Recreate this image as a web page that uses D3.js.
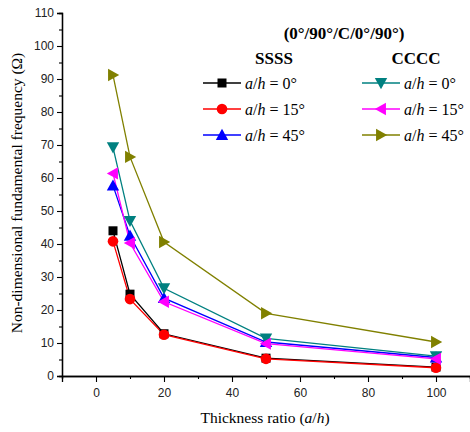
<!DOCTYPE html>
<html><head><meta charset="utf-8">
<script src="https://cdn.jsdelivr.net/npm/d3@7"></script>
<style>body{margin:0;background:#fff}svg{display:block}</style>
</head><body>
<svg id="c" width="470" height="432"></svg>
<script>
const ratios = [5, 10, 20, 50, 100];
const ssss0  = [44.0, 24.8, 12.8, 5.4, 2.7];
const ssss15 = [40.8, 23.3, 12.5, 5.2, 2.5];
const ssss45 = [57.7, 42.5, 23.6, 10.3, 5.6];
const cccc0  = [69.3, 47.0, 26.6, 11.4, 6.0];
const cccc15 = [61.4, 40.3, 22.5, 9.8, 5.2];
const cccc45 = [91.2, 66.4, 40.6, 19.0, 10.3];
const xTicks = [0, 20, 40, 60, 80, 100];
const yTicks = [0,10,20,30,40,50,60,70,80,90,100,110];
const legendTitle = "(0°/90°/C/0°/90°)";
const groupLabels = ["SSSS", "CCCC"];
const angleLabels = ["0°", "15°", "45°"];

const series = [
  {v: ssss0,  color:"#000000", sym:"square",  g:0, r:0},
  {v: ssss15, color:"#ff0000", sym:"circle",  g:0, r:1},
  {v: ssss45, color:"#0000ff", sym:"up",      g:0, r:2},
  {v: cccc0,  color:"#008080", sym:"down",    g:1, r:0},
  {v: cccc15, color:"#ff00ff", sym:"left",    g:1, r:1},
  {v: cccc45, color:"#808000", sym:"right",   g:1, r:2}
];

const svg = d3.select("#c");
const x = d3.scaleLinear().domain([-10, 110]).range([62, 470]);
const y = d3.scaleLinear().domain([0, 110]).range([376, 13]);

// axes
const gy = svg.append("g").attr("transform","translate(62,0)")
  .call(d3.axisLeft(y).tickValues(yTicks).tickSize(5).tickPadding(3));
const gyMinor = svg.append("g").attr("transform","translate(62,0)")
  .call(d3.axisLeft(y).tickValues(d3.range(5,110,10)).tickSize(3).tickFormat(""));
const gx = svg.append("g").attr("transform","translate(0,376)")
  .call(d3.axisBottom(x).tickValues(xTicks).tickSize(6).tickPadding(6));
const gxMinor = svg.append("g").attr("transform","translate(0,376)")
  .call(d3.axisBottom(x).tickValues([-10,10,30,50,70,90,110]).tickSize(3).tickFormat(""));
[gy, gx, gyMinor, gxMinor].forEach(g => {
  g.select(".domain").attr("stroke","#000").attr("stroke-width",1.3);
  g.selectAll(".tick line").attr("stroke","#000").attr("stroke-width",1.1);
  g.selectAll(".tick text").attr("font-family","'Liberation Sans', Arial, sans-serif")
    .attr("font-size",12).attr("fill","#222");
});

// axis titles
svg.append("text").attr("x", 265).attr("y", 423).attr("text-anchor","middle")
  .attr("font-family","'Liberation Serif', 'Times New Roman', serif").attr("font-size",15.5)
  .html('Thickness ratio (<tspan font-style="italic">a</tspan>/<tspan font-style="italic">h</tspan>)');
svg.append("text").attr("transform","translate(22,193) rotate(-90)").attr("text-anchor","middle")
  .attr("font-family","'Liberation Serif', 'Times New Roman', serif").attr("font-size",15.5)
  .text("Non-dimensional fundamental frequency (Ω)");

function drawMarker(g, sym, color, cx, cy) {
  if (sym === "square") {
    g.append("rect").attr("x",cx-4.5).attr("y",cy-4.5).attr("width",9).attr("height",9).attr("fill",color);
  } else if (sym === "circle") {
    g.append("circle").attr("cx",cx).attr("cy",cy).attr("r",5.3).attr("fill",color);
  } else {
    const s = 6.2;
    let pts;
    if (sym === "up") pts = [[0,-s],[s,s*0.8],[-s,s*0.8]];
    if (sym === "down") pts = [[0,s],[s,-s*0.8],[-s,-s*0.8]];
    if (sym === "left") pts = [[-s,0],[s*0.8,-s],[s*0.8,s]];
    if (sym === "right") pts = [[s,0],[-s*0.8,-s],[-s*0.8,s]];
    g.append("polygon").attr("points", pts.map(p=>[cx+p[0],cy+p[1]].join(",")).join(" ")).attr("fill",color);
  }
}

const line = d3.line().x((d,i)=>x(ratios[i])).y(d=>y(d));
series.forEach(s => {
  svg.append("path").datum(s.v).attr("d", line).attr("fill","none")
    .attr("stroke", s.color).attr("stroke-width",1.3);
});
series.forEach(s => {
  const g = svg.append("g");
  s.v.forEach((v,i)=> drawMarker(g, s.sym, s.color, x(ratios[i]), y(v)));
});

// legend
const serif = "'Liberation Serif', 'Times New Roman', serif";
svg.append("text").attr("x",344).attr("y",39).attr("text-anchor","middle")
  .attr("font-family",serif).attr("font-weight","bold").attr("font-size",17).text(legendTitle);
const groupX = [274, 416];
groupLabels.forEach((t,i)=> svg.append("text").attr("x",groupX[i]).attr("y",64)
  .attr("text-anchor","middle").attr("font-family",serif).attr("font-weight","bold").attr("font-size",17).text(t));
const lineX0 = [203, 362], rowY = [83, 109, 135];
series.forEach(s => {
  const x0 = lineX0[s.g], yy = rowY[s.r];
  svg.append("line").attr("x1",x0).attr("x2",x0+38).attr("y1",yy).attr("y2",yy)
    .attr("stroke",s.color).attr("stroke-width",1.3);
  drawMarker(svg.append("g"), s.sym, s.color, x0+19, yy);
  svg.append("text").attr("x",x0+42).attr("y",yy+6).attr("font-family",serif).attr("font-size",16)
    .html('<tspan font-style="italic">a</tspan>/<tspan font-style="italic">h</tspan> = ' + angleLabels[s.r]);
});
</script>
</body></html>
